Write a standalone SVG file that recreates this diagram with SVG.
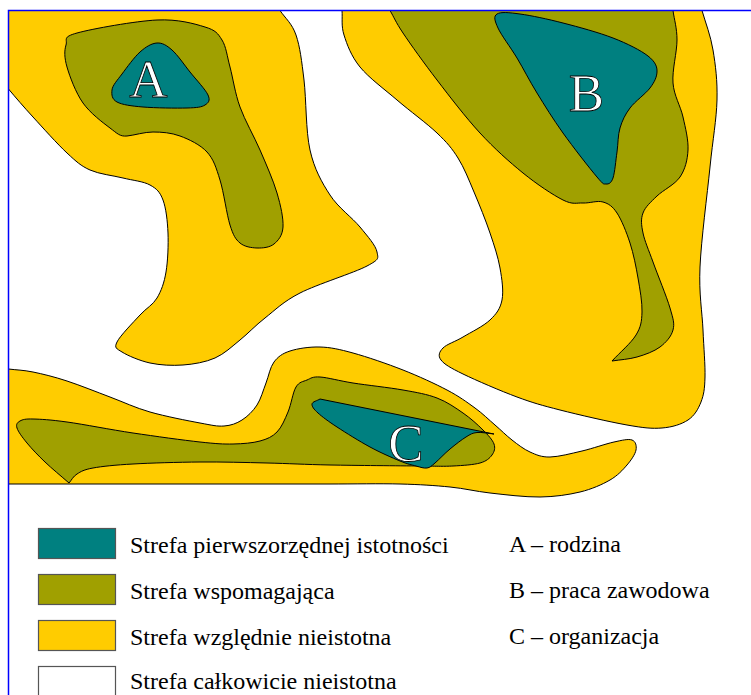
<svg xmlns="http://www.w3.org/2000/svg" width="751" height="695" viewBox="0 0 751 695">
<style>
.y{fill:#ffcc00;stroke:#000;stroke-width:1}
.o{fill:#a0a000;stroke:#000;stroke-width:1}
.t{fill:#008080;stroke:#000;stroke-width:1}
.lbl{font-family:"Liberation Serif","Times New Roman",serif;font-size:53px;fill:#fff;stroke:#000;stroke-width:0.8;text-anchor:middle}
.leg{font-family:"Liberation Serif","Times New Roman",serif;font-size:24px;fill:#000}
.box{stroke:#555;stroke-width:1.2}
</style>
<rect width="751" height="695" fill="#fff"/>
<g id="zone-A">
<path class="y" d="M 8.5,10.5 L 280,10.5 C 285.3,18.3 292,23.3 296,35 C 300,46.7 301.7,60.8 304,80 C 306.3,99.2 305.7,130.8 310,150 C 314.3,169.2 321.7,182.2 330,195 C 338.3,207.8 352.2,217.5 360,227 C 367.8,236.5 375.8,245.5 377,252 C 378.2,258.5 379.8,259.2 367,266 C 354.2,272.8 317,284.3 300,293 C 283,301.7 275,310.2 265,318 C 255,325.8 248.3,333.3 240,340 C 231.7,346.7 224.5,353.8 215,358 C 205.5,362.2 193.8,364.2 183,365 C 172.2,365.8 160.2,365.2 150,363 C 139.8,360.8 127.5,355.5 122,352 C 116.5,348.5 114,348.2 117,342 C 120,335.8 133.3,322.3 140,315 C 146.7,307.7 152.7,305.2 157,298 C 161.3,290.8 164.2,282.8 166,272 C 167.8,261.2 168.5,245 168,233 C 167.5,221 166,208 163,200 C 160,192 156.7,188.7 150,185 C 143.3,181.3 133,180.5 123,178 C 113,175.5 99.3,174.2 90,170 C 80.7,165.8 76.5,161.8 67,153 C 57.5,144.2 42.8,127.7 33,117 C 23.2,106.3 16.3,98.3 8.5,89 Z"/>
<path class="o" d="M 77,33 C 92.2,28.8 135.7,21 157,20 C 178.3,19 194.2,23.7 205,27 C 215.8,30.3 217.8,33.3 222,40 C 226.2,46.7 227,55.8 230,67 C 233,78.2 235,93.2 240,107 C 245,120.8 253.8,135.7 260,150 C 266.2,164.3 273.2,180.2 277,193 C 280.8,205.8 283.5,218.5 283,227 C 282.5,235.5 278.3,240.5 274,244 C 269.7,247.5 262.7,248.2 257,248 C 251.3,247.8 244.5,246.8 240,243 C 235.5,239.2 233.3,235.5 230,225 C 226.7,214.5 223.8,192.2 220,180 C 216.2,167.8 213.7,159.3 207,152 C 200.3,144.7 189,139.3 180,136 C 171,132.7 161.8,132 153,132 C 144.2,132 134.2,135.3 127,136 C 119.8,136.7 117.3,133.5 110,128 C 102.7,122.5 90.2,113.2 83,103 C 75.8,92.8 69.8,76.7 67,67 C 64.2,57.3 64.3,50.7 66,45 C 67.7,39.3 61.8,37.2 77,33 Z"/>
<path class="t" d="M 157,43 C 162.3,42.7 166.5,45.2 172,50 C 177.5,54.8 184,64.5 190,72 C 196,79.5 205.5,89.5 208,95 C 210.5,100.5 208.5,102.8 205,105 C 201.5,107.2 197.3,107.7 187,108 C 176.7,108.3 154.7,108 143,107 C 131.3,106 122.2,104.8 117,102 C 111.8,99.2 111.5,94.7 112,90 C 112.5,85.3 117.3,80.3 122,74 C 126.7,67.7 134.2,57.2 140,52 C 145.8,46.8 151.7,43.3 157,43 Z"/>
<text class="lbl" x="148.5" y="97">A</text>
</g>
<g id="zone-B">
<path class="y" d="M 342,10.5 C 342.7,18.3 341,25.5 344,35 C 347,44.5 351.2,56.2 360,67 C 368.8,77.8 384.2,89 397,100 C 409.8,111 426.8,123.3 437,133 C 447.2,142.7 451.8,148.2 458,158 C 464.2,167.8 468.7,179.5 474,192 C 479.3,204.5 485.7,220.3 490,233 C 494.3,245.7 498,256.8 500,268 C 502,279.2 503.7,291.3 502,300 C 500.3,308.7 496.5,313.8 490,320 C 483.5,326.2 470.8,332.3 463,337 C 455.2,341.7 446.7,344.2 443,348 C 439.3,351.8 437.7,355.7 441,360 C 444.3,364.3 450.3,367.8 463,374 C 475.7,380.2 500.8,391 517,397 C 533.2,403 541.7,405.3 560,410 C 578.3,414.7 610,422 627,425 C 644,428 651.8,428.8 662,428 C 672.2,427.2 681.5,424.3 688,420 C 694.5,415.7 698.2,409.2 701,402 C 703.8,394.8 704.7,389 705,377 C 705.3,365 703.8,348.3 703,330 C 702.2,311.7 698.8,294.2 700,267 C 701.2,239.8 707.2,194.8 710,167 C 712.8,139.2 716.5,119.5 717,100 C 717.5,80.5 715.5,65 713,50 C 710.5,35 705.7,23.3 702,10.5 Z"/>
<path class="o" d="M 390,10.5 C 394.3,17.7 395.2,21.3 403,33 C 410.8,44.7 424.2,63.3 437,80 C 449.8,96.7 465.7,117.5 480,133 C 494.3,148.5 509.2,161.8 523,173 C 536.8,184.2 553,195 563,200 C 573,205 576.3,202.7 583,203 C 589.7,203.3 597.3,200.3 603,202 C 608.7,203.7 612.5,206.2 617,213 C 621.5,219.8 626.5,232.2 630,243 C 633.5,253.8 636,266.5 638,278 C 640,289.5 642.3,302.5 642,312 C 641.7,321.5 641,326.8 636,335 C 631,343.2 620,352.3 612,361 C 620.3,359.7 629,359.3 637,357 C 645,354.7 654,351.5 660,347 C 666,342.5 671.3,336.5 673,330 C 674.7,323.5 673.3,319.3 670,308 C 666.7,296.7 657.5,274.5 653,262 C 648.5,249.5 644.7,241.2 643,233 C 641.3,224.8 640.7,219.2 643,213 C 645.3,206.8 650.8,202 657,196 C 663.2,190 674.8,184.7 680,177 C 685.2,169.3 687.5,160 688,150 C 688.5,140 685.5,128.2 683,117 C 680.5,105.8 674,95.8 673,83 C 672,70.2 677,52.2 677,40 C 677,27.8 674.3,20 673,10.5 Z"/>
<path class="t" d="M 497,14 C 500.7,11.7 509,12.5 520,14 C 531,15.5 547.5,19 563,23 C 578.5,27 598.8,32.5 613,38 C 627.2,43.5 640.7,50.3 648,56 C 655.3,61.7 657.3,66.7 657,72 C 656.7,77.3 654.5,82 650,88 C 645.5,94 635,101.3 630,108 C 625,114.7 622.2,120.7 620,128 C 617.8,135.3 618.2,143.7 617,152 C 615.8,160.3 614.8,172.7 613,178 C 611.2,183.3 608.7,184.2 606,184 C 603.3,183.8 604.2,185.5 597,177 C 589.8,168.5 573,147 563,133 C 553,119 544.7,105.5 537,93 C 529.3,80.5 523.5,68.8 517,58 C 510.5,47.2 501.3,35.3 498,28 C 494.7,20.7 493.3,16.3 497,14 Z"/>
<text class="lbl" x="586.5" y="111">B</text>
</g>
<g id="zone-C">
<path class="y" d="M 8.5,484 L 8.5,369 C 16.3,370 23.2,370 33,372 C 42.8,374 54.2,376.8 67,381 C 79.8,385.2 96.2,391.8 110,397 C 123.8,402.2 135,407.7 150,412 C 165,416.3 187.7,420.7 200,423 C 212.3,425.3 217,426.5 224,426 C 231,425.5 236.5,423.5 242,420 C 247.5,416.5 253,411.2 257,405 C 261,398.8 263.2,390.2 266,383 C 268.8,375.8 270,367.3 274,362 C 278,356.7 282.3,353.5 290,351 C 297.7,348.5 309.5,346.7 320,347 C 330.5,347.3 339.2,349.2 353,353 C 366.8,356.8 387.3,363.8 403,370 C 418.7,376.2 435,383.7 447,390 C 459,396.3 467,402.2 475,408 C 483,413.8 488.8,419.7 495,425 C 501.2,430.3 506.2,435.5 512,440 C 517.8,444.5 523.7,449.2 530,452 C 536.3,454.8 541.3,457.2 550,457 C 558.7,456.8 571.3,453.5 582,451 C 592.7,448.5 605.7,443.8 614,442 C 622.3,440.2 628.3,438.7 632,440 C 635.7,441.3 636.8,445.8 636,450 C 635.2,454.2 631.3,460 627,465 C 622.7,470 617.8,475.5 610,480 C 602.2,484.5 591.7,489.2 580,492 C 568.3,494.8 555,496.8 540,497 C 525,497.2 505,494.7 490,493 C 475,491.3 465,488.5 450,487 C 435,485.5 420,484.5 400,484 C 380,483.5 353.3,484 330,484 Z"/>
<path class="o" d="M 20,421 C 22.7,419.5 25.2,418.8 33,419 C 40.8,419.2 50.3,419.7 67,422 C 83.7,424.3 110.8,429.7 133,433 C 155.2,436.3 183.3,440.2 200,442 C 216.7,443.8 223,444.2 233,444 C 243,443.8 252.7,443 260,441 C 267.3,439 272.3,436.8 277,432 C 281.7,427.2 284.8,419.5 288,412 C 291.2,404.5 292.8,392.3 296,387 C 299.2,381.7 303,381.7 307,380 C 311,378.3 312.3,376.5 320,377 C 327.7,377.5 339.2,380.8 353,383 C 366.8,385.2 389,387.5 403,390 C 417,392.5 427,394.2 437,398 C 447,401.8 455.3,407.7 463,413 C 470.7,418.3 477.8,424.8 483,430 C 488.2,435.2 492.5,439.8 494,444 C 495.5,448.2 494.3,451.8 492,455 C 489.7,458.2 486.5,461.2 480,463 C 473.5,464.8 463,465.5 453,466 C 443,466.5 440.5,466.2 420,466 C 399.5,465.8 355.5,465.5 330,465 C 304.5,464.5 288.7,463.5 267,463 C 245.3,462.5 222.3,461.8 200,462 C 177.7,462.2 150.8,463 133,464 C 115.2,465 102.3,466.3 93,468 C 83.7,469.7 81,471.5 77,474 C 73,476.5 71.7,480 69,483 C 61,476 52,468.7 45,462 C 38,455.3 31.7,448.7 27,443 C 22.3,437.3 18.2,431.7 17,428 C 15.8,424.3 17.3,422.5 20,421 Z"/>
<path class="t" d="M 494,434 C 488.3,433.5 481.7,432 477,432.5 C 472.3,433 470.5,434.2 466,437 C 461.5,439.8 455.2,444.7 450,449 C 444.8,453.3 438.8,459.8 435,463 C 431.2,466.2 430.2,467.5 427,468 C 423.8,468.5 420.5,467.2 416,466 C 411.5,464.8 407.7,464.2 400,461 C 392.3,457.8 380.5,452.7 370,447 C 359.5,441.3 345.7,432.7 337,427 C 328.3,421.3 322.2,416.8 318,413 C 313.8,409.2 311.7,406.3 312,404 C 312.3,401.7 317.3,400.7 320,399 L 494,434 Z"/>
<text class="lbl" x="406" y="461">C</text>
</g>
<g id="frame">
<path d="M 8.5,695 L 8.5,10.5 L 751,10.5" fill="none" stroke="#0000ff" stroke-width="1.5"/>
</g>
<g id="legend">
<rect class="box" x="38.5" y="528.5" width="77" height="30" fill="#008080"/>
<rect class="box" x="38.5" y="574.5" width="77" height="30" fill="#a0a000"/>
<rect class="box" x="38.5" y="620.5" width="77" height="30" fill="#ffcc00"/>
<rect class="box" x="38.5" y="666.5" width="77" height="30" fill="#ffffff"/>
<text class="leg" x="130" y="553">Strefa pierwszorzędnej istotności</text>
<text class="leg" x="130" y="599">Strefa wspomagająca</text>
<text class="leg" x="130" y="645">Strefa względnie nieistotna</text>
<text class="leg" x="130" y="689">Strefa całkowicie nieistotna</text>
<text class="leg" x="509" y="552">A – rodzina</text>
<text class="leg" x="509" y="598">B – praca zawodowa</text>
<text class="leg" x="509" y="644">C – organizacja</text>
</g>
</svg>
